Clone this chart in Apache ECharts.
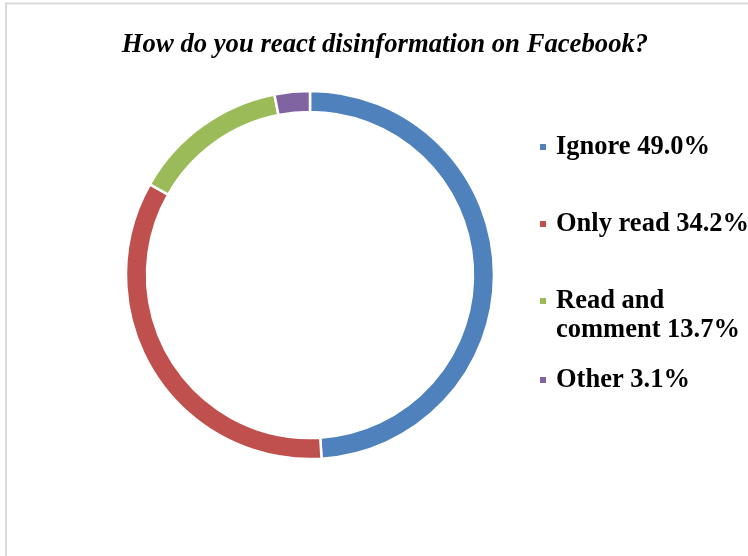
<!DOCTYPE html>
<html>
<head>
<meta charset="utf-8">
<script src="https://cdn.jsdelivr.net/npm/echarts@6/dist/echarts.min.js"></script>
<style>html,body{margin:0;padding:0;background:#fff}#c{width:748px;height:556px}</style>
</head>
<body>
<div id="c"></div>
<script>
const titleText = 'How do you react disinformation on Facebook?';
const categories = ['Ignore', 'Only read', 'Read and comment', 'Other'];
const legendLabels = ['Ignore 49.0%', 'Only read 34.2%', 'Read and', 'Other 3.1%'];
const legendSecondLine = 'comment 13.7%';
const values = [49.0, 34.2, 13.7, 3.1];
const colors = ['#4F81BD', '#C0504D', '#9BBB59', '#8064A2'];

const font = 'Liberation Serif, Times New Roman, serif';
const chart = echarts.init(document.getElementById('c'), null, {renderer: 'canvas'});
const legendCenters = [145, 222, 299, 378];
const legends = categories.map((c, i) => ({
  orient: 'vertical',
  left: 533,
  top: legendCenters[i] - 18,
  data: [c],
  icon: 'rect',
  itemWidth: 8,
  itemHeight: 8,
  itemGap: 0,
  formatter: () => legendLabels[i],
  selectedMode: false,
  textStyle: {
    fontFamily: font,
    fontWeight: 'bold',
    fontSize: 26.5,
    color: '#000',
    lineHeight: 30,
    padding: [0, 0, 0, 4]
  }
}));

chart.setOption({
  animation: false,
  color: colors,
  title: {
    text: titleText,
    left: 380,
    textAlign: 'center',
    top: 27,
    textStyle: {
      fontFamily: font,
      fontStyle: 'italic',
      fontWeight: 'bold',
      fontSize: 26.7,
      color: '#000'
    }
  },
  legend: legends,
  graphic: [{
    type: 'rect',
    shape: {x: 6, y: 3.5, width: 800, height: 700},
    style: {fill: 'none', stroke: '#d9d9d9', lineWidth: 2},
    silent: true
  }, {
    type: 'text',
    left: 556,
    top: 317,
    style: {
      text: legendSecondLine,
      font: 'bold 26.5px ' + font,
      fill: '#000'
    },
    silent: true
  }],
  series: [{
    type: 'pie',
    center: [310, 275],
    radius: [163, 184],
    startAngle: 90,
    clockwise: true,
    label: {show: false},
    labelLine: {show: false},
    itemStyle: {borderColor: '#fff', borderWidth: 2.5},
    data: categories.map((c, i) => ({name: c, value: values[i]}))
  }]
});
</script>
</body>
</html>
